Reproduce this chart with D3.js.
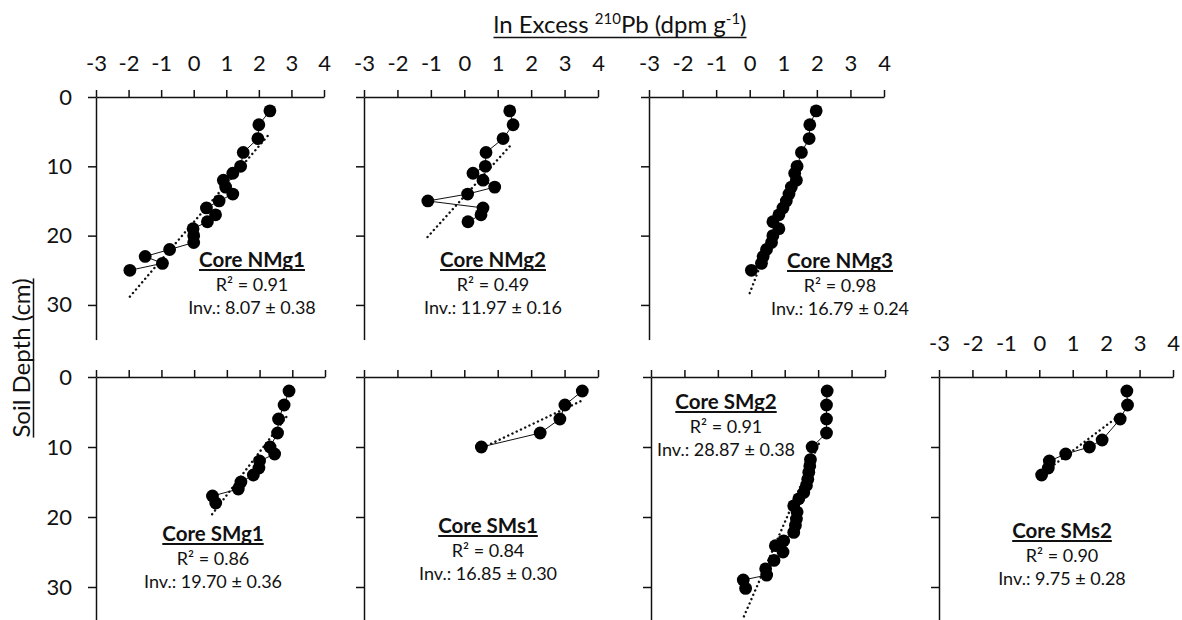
<!DOCTYPE html>
<html>
<head>
<meta charset="utf-8">
<script src="https://cdn.jsdelivr.net/npm/d3@7"></script>
<style>
  body { margin: 0; background: #fff; }
  svg { display: block; font-family: Lato, "Open Sans", sans-serif; }
</style>
</head>
<body>
<div id="chart"></div>
<script>
// tick labels
const xTicks = [-3, -2, -1, 0, 1, 2, 3, 4];
const xTickLabels = ["-3", "-2", "-1", "0", "1", "2", "3", "4"];
const yTicks = [0, 10, 20, 30];
const yTickLabels = ["0", "10", "20", "30"];

// cores and their stats
const coreNames = ["NMg1", "NMg2", "NMg3", "SMg1", "SMs1", "SMg2", "SMs2"];
const r2Values = [0.91, 0.49, 0.98, 0.86, 0.84, 0.91, 0.90];
const invValues = ["8.07", "11.97", "16.79", "19.70", "16.85", "28.87", "9.75"];
const invErrors = ["0.38", "0.16", "0.24", "0.36", "0.30", "0.38", "0.28"];

// depth (cm) and ln excess 210Pb per core
const nmg1Depth = [2, 4, 6, 8, 10, 11, 12, 13, 14, 15, 16, 17, 18, 19, 20, 21, 22, 23, 24, 25];
const nmg1Pb = [2.34, 2.0, 1.97, 1.52, 1.44, 1.2, 0.91, 0.98, 1.2, 0.78, 0.39, 0.67, 0.42, -0.02, 0.0, 0.0, -0.74, -1.49, -0.96, -1.96];
const nmg1Trend = [[-1.96, 28.8], [2.31, 5.4]];

const nmg2Depth = [2, 4, 6, 8, 10, 11, 12, 13, 14, 15, 16, 17, 18];
const nmg2Pb = [1.36, 1.46, 1.16, 0.65, 0.63, 0.26, 0.56, 0.91, 0.1, -1.09, 0.56, 0.5, 0.11];
const nmg2Trend = [[-1.1, 20.2], [1.4, 6.9]];

const nmg3Depth = [2, 4, 6, 8, 10, 11, 12, 13, 14, 15, 16, 17, 18, 19, 20, 21, 22, 23, 24, 25];
const nmg3Pb = [1.98, 1.79, 1.77, 1.54, 1.41, 1.34, 1.39, 1.24, 1.17, 1.09, 0.99, 0.87, 0.69, 0.87, 0.69, 0.65, 0.5, 0.4, 0.35, 0.05];
const nmg3Trend = [[0.0, 28.3], [1.6, 8]];

const smg1Depth = [2, 4, 6, 8, 10, 11, 12, 13, 14, 15, 16, 17, 18];
const smg1Pb = [2.9, 2.75, 2.58, 2.55, 2.32, 2.46, 2.0, 1.98, 1.81, 1.43, 1.35, 0.56, 0.66];
const smg1Trend = [[0.55, 19.6], [2.85, 5.5]];

const sms1Depth = [2, 4, 6, 8, 10];
const sms1Pb = [3.53, 3.01, 2.86, 2.27, 0.51];
const sms1Trend = [[0.55, 10.1], [3.55, 3.3]];

const smg2Depth = [2, 4, 6, 8, 10, 11.8, 12.7, 13.6, 14.6, 15.5, 16.5, 17.4, 18.4, 19.3, 20.3, 21.2, 22.2, 23.4, 24.1, 25, 26.2, 27.4, 28.3, 29, 30.2];
const smg2Pb = [2.27, 2.25, 2.25, 2.25, 1.82, 1.77, 1.75, 1.72, 1.69, 1.65, 1.57, 1.42, 1.27, 1.37, 1.35, 1.32, 1.27, 0.97, 0.72, 0.95, 0.68, 0.43, 0.46, -0.24, -0.17];
const smg2Trend = [[-0.22, 34.2], [2.07, 9]];

const sms2Depth = [2, 4, 6, 9, 10, 11, 12, 13, 14];
const sms2Pb = [2.62, 2.64, 2.42, 1.88, 1.5, 0.79, 0.3, 0.27, 0.07];
const sms2Trend = [[0.12, 13.7], [2.37, 5.6]];

const depths = [nmg1Depth, nmg2Depth, nmg3Depth, smg1Depth, sms1Depth, smg2Depth, sms2Depth];
const pbs = [nmg1Pb, nmg2Pb, nmg3Pb, smg1Pb, sms1Pb, smg2Pb, sms2Pb];
const trends = [nmg1Trend, nmg2Trend, nmg3Trend, smg1Trend, sms1Trend, smg2Trend, sms2Trend];

// panel layout (pixels)
const layout = [
  { x0: 96,  x1: 324,  top: 97,  bottom: 339.6, xLab: true,  yLab: true,  lx: 252,  ly: 267 },
  { x0: 364, x1: 598,  top: 97,  bottom: 339.6, xLab: true,  yLab: false, lx: 493,  ly: 267 },
  { x0: 649, x1: 884,  top: 97,  bottom: 339.6, xLab: true,  yLab: false, lx: 840,  ly: 268 },
  { x0: 96,  x1: 325,  top: 377, bottom: 622,   xLab: false, yLab: true,  lx: 213,  ly: 541 },
  { x0: 364, x1: 598,  top: 377, bottom: 622,   xLab: false, yLab: false, lx: 488,  ly: 533 },
  { x0: 651, x1: 885,  top: 377, bottom: 622,   xLab: false, yLab: false, lx: 726,  ly: 409 },
  { x0: 939, x1: 1173, top: 377, bottom: 622,   xLab: true,  yLab: false, lx: 1062, ly: 538 }
];

const W = 1182, H = 620;
const ink = "#111";

const svg = d3.select("#chart").append("svg")
  .attr("width", W)
  .attr("height", H);

svg.append("rect").attr("width", W).attr("height", H).attr("fill", "#fff");

function underline(g, textNode, dy, width) {
  const b = textNode.getBBox();
  g.append("line")
    .attr("x1", b.x).attr("x2", b.x + b.width)
    .attr("y1", dy).attr("y2", dy)
    .attr("stroke", ink)
    .attr("stroke-width", width);
}

coreNames.forEach((name, i) => {
  const L = layout[i];
  const x = d3.scaleLinear().domain([-3, 4]).range([L.x0, L.x1]);
  const y = d3.scaleLinear().domain([0, 35]).range([L.top, L.bottom]);
  const g = svg.append("g");

  // axes
  const xAxis = d3.axisTop(x)
    .tickValues(xTicks)
    .tickSize(7)
    .tickSizeOuter(0)
    .tickPadding(19)
    .tickFormat((d, k) => L.xLab ? xTickLabels[k] : "");
  const yAxis = d3.axisLeft(y)
    .tickValues(yTicks)
    .tickSize(8)
    .tickSizeOuter(0)
    .tickPadding(16)
    .tickFormat((d, k) => L.yLab ? yTickLabels[k] : "");

  g.append("g").attr("transform", `translate(0,${L.top})`).call(xAxis);
  g.append("g").attr("transform", `translate(${L.x0},0)`).call(yAxis);

  g.selectAll(".domain, .tick line").attr("stroke", ink).attr("stroke-width", 1.5);
  g.selectAll(".tick text")
    .attr("fill", ink)
    .attr("font-size", 22)
    .attr("font-family", "Lato, 'Open Sans', sans-serif");

  // regression line (dotted)
  g.append("path")
    .datum(trends[i])
    .attr("d", d3.line().x(d => x(d[0])).y(d => y(d[1])))
    .attr("fill", "none")
    .attr("stroke", ink)
    .attr("stroke-width", 2.4)
    .attr("stroke-linecap", "round")
    .attr("stroke-dasharray", "0.1 4.6");

  const pts = depths[i].map((d, k) => [pbs[i][k], d]);

  // connecting line
  g.append("path")
    .datum(pts)
    .attr("d", d3.line().x(d => x(d[0])).y(d => y(d[1])))
    .attr("fill", "none")
    .attr("stroke", ink)
    .attr("stroke-width", 1);

  g.selectAll("circle")
    .data(pts)
    .join("circle")
    .attr("cx", d => x(d[0]))
    .attr("cy", d => y(d[1]))
    .attr("r", 6.4)
    .attr("fill", "#000");

  // labels
  const lg = g.append("g").attr("transform", `translate(${L.lx},${L.ly})`);
  const t1 = lg.append("text")
    .attr("text-anchor", "middle")
    .attr("font-size", 20.5)
    .attr("font-weight", "bold")
    .attr("fill", ink)
    .text("Core " + name);
  underline(lg, t1.node(), 3, 1.8);
  lg.append("text")
    .attr("text-anchor", "middle")
    .attr("y", 24)
    .attr("font-size", 18)
    .attr("fill", ink)
    .text("R² = " + r2Values[i].toFixed(2));
  lg.append("text")
    .attr("text-anchor", "middle")
    .attr("y", 47)
    .attr("font-size", 18)
    .attr("fill", ink)
    .text("Inv.: " + invValues[i] + " ± " + invErrors[i]);
});

// x title
const tg = svg.append("g").attr("transform", "translate(620,33)");
const title = tg.append("text")
  .attr("text-anchor", "middle")
  .attr("font-size", 24)
  .attr("fill", ink);
title.append("tspan").text("ln Excess ");
title.append("tspan").attr("font-size", 15).attr("dy", -9).text("210");
title.append("tspan").attr("dy", 9).text("Pb (dpm g");
title.append("tspan").attr("font-size", 15).attr("dy", -9).text("-1");
title.append("tspan").attr("dy", 9).text(")");
underline(tg, title.node(), 4.5, 1.5);

// y title
const yg = svg.append("g").attr("transform", "translate(30,358) rotate(-90)");
const ytitle = yg.append("text")
  .attr("text-anchor", "middle")
  .attr("font-size", 24)
  .attr("fill", ink)
  .text("Soil Depth (cm)");
underline(yg, ytitle.node(), 3.5, 1.5);
</script>
</body>
</html>
